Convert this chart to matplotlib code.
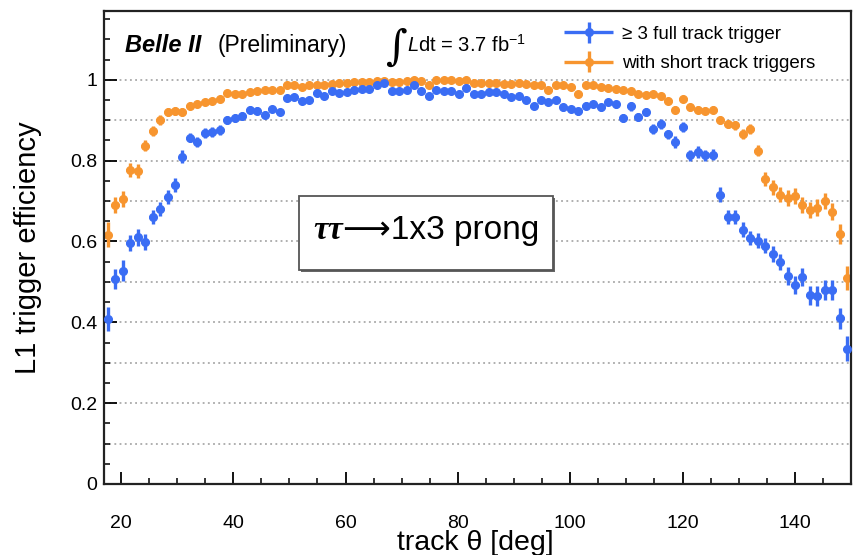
import matplotlib
matplotlib.use("Agg")
import matplotlib.pyplot as plt
import numpy as np
from matplotlib.patches import Rectangle
from matplotlib.offsetbox import TextArea, HPacker, AnnotationBbox
from matplotlib.ticker import MultipleLocator, FixedLocator, FixedFormatter
from matplotlib.legend_handler import HandlerErrorbar

plt.rcParams['font.family'] = ['Liberation Sans', 'DejaVu Sans']
plt.rcParams['mathtext.fontset'] = 'custom'
plt.rcParams['mathtext.rm'] = 'Liberation Sans'
plt.rcParams['mathtext.it'] = 'Liberation Sans:italic'

# ---------------- data ----------------
theta_min, theta_max, n_bins = 17.0, 150.0, 100

eff_full = [
    0.408, 0.507, 0.528, 0.596, 0.610, 0.598, 0.660, 0.680, 0.710, 0.740,
    0.810, 0.857, 0.846, 0.868, 0.870, 0.875, 0.900, 0.906, 0.910, 0.926,
    0.924, 0.914, 0.928, 0.920, 0.955, 0.957, 0.947, 0.950, 0.967, 0.959,
    0.972, 0.967, 0.969, 0.974, 0.978, 0.978, 0.986, 0.992, 0.972, 0.972,
    0.975, 0.986, 0.972, 0.961, 0.975, 0.972, 0.972, 0.965, 0.980, 0.965,
    0.965, 0.969, 0.969, 0.965, 0.957, 0.959, 0.950, 0.936, 0.949, 0.945,
    0.949, 0.932, 0.928, 0.922, 0.936, 0.940, 0.932, 0.945, 0.939, 0.906,
    0.934, 0.908, 0.920, 0.879, 0.891, 0.865, 0.846, 0.883, 0.813, 0.821,
    0.813, 0.815, 0.716, 0.660, 0.660, 0.629, 0.609, 0.602, 0.590, 0.569,
    0.550, 0.515, 0.492, 0.513, 0.467, 0.465, 0.480, 0.480, 0.410, 0.335,
]
err_full = [
    0.030, 0.025, 0.025, 0.020, 0.020, 0.020, 0.018, 0.018, 0.018, 0.018,
    0.016, 0.012, 0.012, 0.012, 0.012, 0.012, 0.010, 0.010, 0.010, 0.008,
    0.008, 0.008, 0.008, 0.008, 0.007, 0.007, 0.007, 0.007, 0.006, 0.006,
    0.006, 0.006, 0.006, 0.006, 0.006, 0.006, 0.006, 0.006, 0.006, 0.006,
    0.006, 0.006, 0.006, 0.006, 0.006, 0.006, 0.006, 0.006, 0.006, 0.006,
    0.006, 0.006, 0.006, 0.006, 0.006, 0.006, 0.006, 0.007, 0.007, 0.007,
    0.007, 0.008, 0.008, 0.008, 0.008, 0.008, 0.008, 0.008, 0.008, 0.010,
    0.010, 0.010, 0.010, 0.012, 0.012, 0.012, 0.014, 0.012, 0.014, 0.014,
    0.014, 0.014, 0.018, 0.018, 0.018, 0.018, 0.018, 0.018, 0.018, 0.020,
    0.020, 0.022, 0.022, 0.022, 0.024, 0.024, 0.024, 0.024, 0.026, 0.030,
]
eff_short = [
    0.617, 0.690, 0.705, 0.777, 0.774, 0.837, 0.873, 0.900, 0.920, 0.922,
    0.920, 0.936, 0.940, 0.945, 0.947, 0.953, 0.967, 0.964, 0.964, 0.970,
    0.972, 0.974, 0.974, 0.975, 0.986, 0.986, 0.983, 0.986, 0.988, 0.988,
    0.990, 0.992, 0.993, 0.994, 0.994, 0.995, 0.998, 0.997, 0.994, 0.994,
    0.998, 1.000, 0.998, 0.988, 1.000, 1.000, 1.000, 0.998, 1.000, 0.993,
    0.992, 0.992, 0.992, 0.990, 0.990, 0.992, 0.990, 0.986, 0.986, 0.975,
    0.988, 0.988, 0.983, 0.964, 0.986, 0.986, 0.982, 0.980, 0.978, 0.974,
    0.972, 0.965, 0.963, 0.965, 0.959, 0.947, 0.926, 0.953, 0.932, 0.926,
    0.924, 0.926, 0.901, 0.891, 0.887, 0.866, 0.879, 0.825, 0.755, 0.734,
    0.716, 0.707, 0.713, 0.690, 0.678, 0.684, 0.700, 0.674, 0.618, 0.509,
]
err_short = [
    0.030, 0.020, 0.020, 0.018, 0.018, 0.014, 0.012, 0.012, 0.010, 0.010,
    0.010, 0.008, 0.008, 0.008, 0.008, 0.007, 0.006, 0.006, 0.006, 0.006,
    0.005, 0.005, 0.005, 0.005, 0.004, 0.004, 0.004, 0.004, 0.004, 0.004,
    0.004, 0.004, 0.004, 0.004, 0.004, 0.004, 0.004, 0.004, 0.004, 0.004,
    0.004, 0.004, 0.004, 0.004, 0.004, 0.004, 0.004, 0.004, 0.004, 0.004,
    0.004, 0.004, 0.004, 0.004, 0.004, 0.004, 0.004, 0.004, 0.004, 0.004,
    0.004, 0.004, 0.004, 0.005, 0.004, 0.004, 0.005, 0.005, 0.005, 0.005,
    0.005, 0.006, 0.006, 0.006, 0.006, 0.007, 0.008, 0.008, 0.008, 0.008,
    0.009, 0.009, 0.010, 0.010, 0.010, 0.012, 0.012, 0.014, 0.018, 0.018,
    0.018, 0.020, 0.020, 0.020, 0.020, 0.020, 0.020, 0.020, 0.025, 0.030,
]

label_full = "\u2265 3 full track trigger"
label_short = "with short track triggers"
y_ticks = [0, 0.2, 0.4, 0.6, 0.8, 1.0]
y_tick_labels = ["0", "0.2", "0.4", "0.6", "0.8", "1"]
grid_y = [0.1, 0.2, 0.3, 0.4, 0.5, 0.6, 0.7, 0.8, 0.9, 1.0]

# binning (x axis of the histogram)
edges = np.linspace(theta_min, theta_max, n_bins + 1)
centers = 0.5 * (edges[:-1] + edges[1:])
half_w = 0.5 * np.diff(edges)

c_blue = '#3a6df4'
c_orange = '#f7952f'

fig = plt.figure(figsize=(8.56, 5.55), dpi=100)
ax = fig.add_axes([0.1215, 0.128, 0.8727, 0.852])

for yv in grid_y:
    ax.axhline(yv, color='#9a9a9a', lw=1.1, ls=(0, (1.2, 2.2)), zorder=0)

eb1 = ax.errorbar(centers, eff_full, xerr=half_w, yerr=err_full, fmt='o',
                  color=c_blue, ms=5.5, elinewidth=2.4, capsize=0,
                  label=label_full, zorder=3)
eb2 = ax.errorbar(centers, eff_short, xerr=half_w, yerr=err_short, fmt='o',
                  color=c_orange, ms=5.5, elinewidth=2.4, capsize=0,
                  label=label_short, zorder=2)

ax.set_xlim(theta_min, theta_max)
ax.set_ylim(0, 1.17)

ax.xaxis.set_major_locator(MultipleLocator(20))
ax.xaxis.set_minor_locator(MultipleLocator(5))
ax.yaxis.set_major_locator(FixedLocator(y_ticks))
ax.yaxis.set_major_formatter(FixedFormatter(y_tick_labels))
ax.yaxis.set_minor_locator(MultipleLocator(0.05))
ax.tick_params(axis='both', which='both', direction='in', top=False, right=False)
ax.tick_params(axis='both', which='major', length=9, width=1.3, labelsize=14)
ax.tick_params(axis='both', which='minor', length=4.5, width=1.1)
ax.tick_params(axis='x', which='major', pad=22)
ax.tick_params(axis='y', which='major', pad=5)
for sp in ax.spines.values():
    sp.set_linewidth(1.6)
    sp.set_color('#222222')

ax.set_ylabel("L1 trigger efficiency", fontsize=21)
ax.set_xlabel("track \u03b8 [deg]", fontsize=20.5)
ax.yaxis.set_label_coords(-0.083, 0.5)
ax.xaxis.set_label_coords(0.497, -0.098)

# Belle II label
ax.text(0.028, 0.913, "Belle II", transform=ax.transAxes, fontsize=17,
        fontweight='bold', fontstyle='italic', ha='left', va='baseline')
ax.text(0.1526, 0.913, "(Preliminary)", transform=ax.transAxes, fontsize=16.5,
        ha='left', va='baseline')
# luminosity
ax.text(0.376, 0.922, "\u222b", transform=ax.transAxes, fontsize=30,
        family=['DejaVu Serif'], fontstyle='italic', ha='left', va='center')
ax.text(0.406, 0.913, r"$\mathit{L}$dt = 3.7 fb$^{-1}$", transform=ax.transAxes,
        fontsize=14.5, ha='left', va='baseline')

# legend
hm = {type(eb1): HandlerErrorbar(xerr_size=1.3, yerr_size=0.55)}
leg = ax.legend(loc='upper left', bbox_to_anchor=(0.600, 0.993), frameon=False,
                fontsize=13.5, handlelength=2.7, handletextpad=0.4,
                labelspacing=0.65, borderaxespad=0.2, handler_map=hm)

# tau box
bx0 = (299 - 104) / 747.0
bx1 = (553 - 104) / 747.0
by0 = (484 - 270) / 473.0
by1 = (484 - 196) / 473.0
shadow = Rectangle((bx0 + 0.003, by0 - 0.005), bx1 - bx0, by1 - by0,
                   transform=ax.transAxes, facecolor='#666666', edgecolor='none',
                   zorder=4)
box = Rectangle((bx0, by0), bx1 - bx0, by1 - by0, transform=ax.transAxes,
                facecolor='white', edgecolor='#555555', lw=1.3, zorder=5)
ax.add_patch(shadow)
ax.add_patch(box)
t1 = TextArea("\u03c4\u03c4", textprops=dict(fontsize=24, family=['Liberation Serif'],
                                               fontweight='bold', fontstyle='italic'))
t2 = TextArea("\u27f61x3 prong", textprops=dict(fontsize=24,
                                               family=['Liberation Sans', 'DejaVu Sans']))
pack = HPacker(children=[t1, t2], align='baseline', pad=0, sep=0)
ab = AnnotationBbox(pack, ((bx0 + bx1) / 2, (by0 + by1) / 2 + 0.005),
                    xycoords='axes fraction', frameon=False, zorder=6)
ax.add_artist(ab)

fig.savefig("out.png", dpi=100)
